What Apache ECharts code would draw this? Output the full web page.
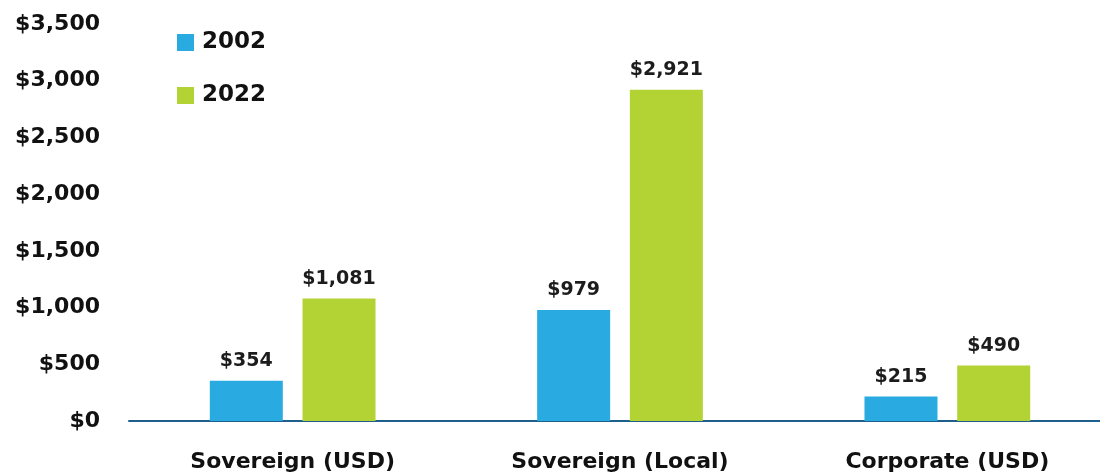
<!DOCTYPE html>
<html>
<head>
<meta charset="utf-8">
<script src="https://cdn.jsdelivr.net/npm/echarts@6/dist/echarts.min.js"></script>
<style>
  html, body { margin: 0; padding: 0; background: #fff; }
  #chart { width: 1100px; height: 476px; }
</style>
</head>
<body>
<div id="chart"></div>
<script>
const categories = ['Sovereign (USD)', 'Sovereign (Local)', 'Corporate (USD)']
const values2002 = [354, 979, 215]
const values2022 = [1081, 2921, 490]
const seriesNames = ['2002', '2022']

const font = '"DejaVu Sans", sans-serif'
const money = v => '$' + v.toLocaleString('en-US')

const chart = echarts.init(document.getElementById('chart'))

const barLabel = {
  show: true,
  position: 'top',
  distance: 10,
  color: '#1c1c1c',
  fontFamily: font,
  fontWeight: 'bold',
  fontSize: 19,
  formatter: p => money(p.value)
}

chart.setOption({
  animation: false,
  textStyle: { fontFamily: font },
  legend: {
    orient: 'vertical',
    left: 172,
    top: 26,
    itemWidth: 17,
    itemHeight: 17,
    itemGap: 30,
    icon: 'rect',
    textStyle: { color: '#111', fontSize: 23, fontWeight: 'bold', fontFamily: font, padding: [0, 0, 0, 3] }
  },
  grid: {
    left: 129,
    top: 24,
    width: 982,
    bottom: 55,
    outerBoundsMode: 'none'
  },
  xAxis: {
    type: 'category',
    data: categories,
    axisTick: { show: false },
    axisLine: { lineStyle: { color: '#1f5f8b', width: 2 } },
    axisLabel: {
      color: '#111',
      fontSize: 22,
      fontWeight: 'bold',
      fontFamily: font,
      margin: 30
    }
  },
  yAxis: {
    type: 'value',
    min: 0,
    max: 3500,
    interval: 500,
    splitLine: { show: false },
    axisLine: { show: false },
    axisTick: { show: false },
    axisLabel: {
      color: '#111',
      fontSize: 22,
      fontWeight: 'bold',
      fontFamily: font,
      margin: 29,
      formatter: money
    }
  },
  series: [
    {
      name: seriesNames[0],
      type: 'bar',
      data: values2002,
      barWidth: 73,
      barGap: '27%',
      itemStyle: { color: '#29abe2' },
      label: barLabel
    },
    {
      name: seriesNames[1],
      type: 'bar',
      data: values2022,
      barWidth: 73,
      itemStyle: { color: '#b3d335' },
      label: barLabel
    }
  ]
})
</script>
</body>
</html>
